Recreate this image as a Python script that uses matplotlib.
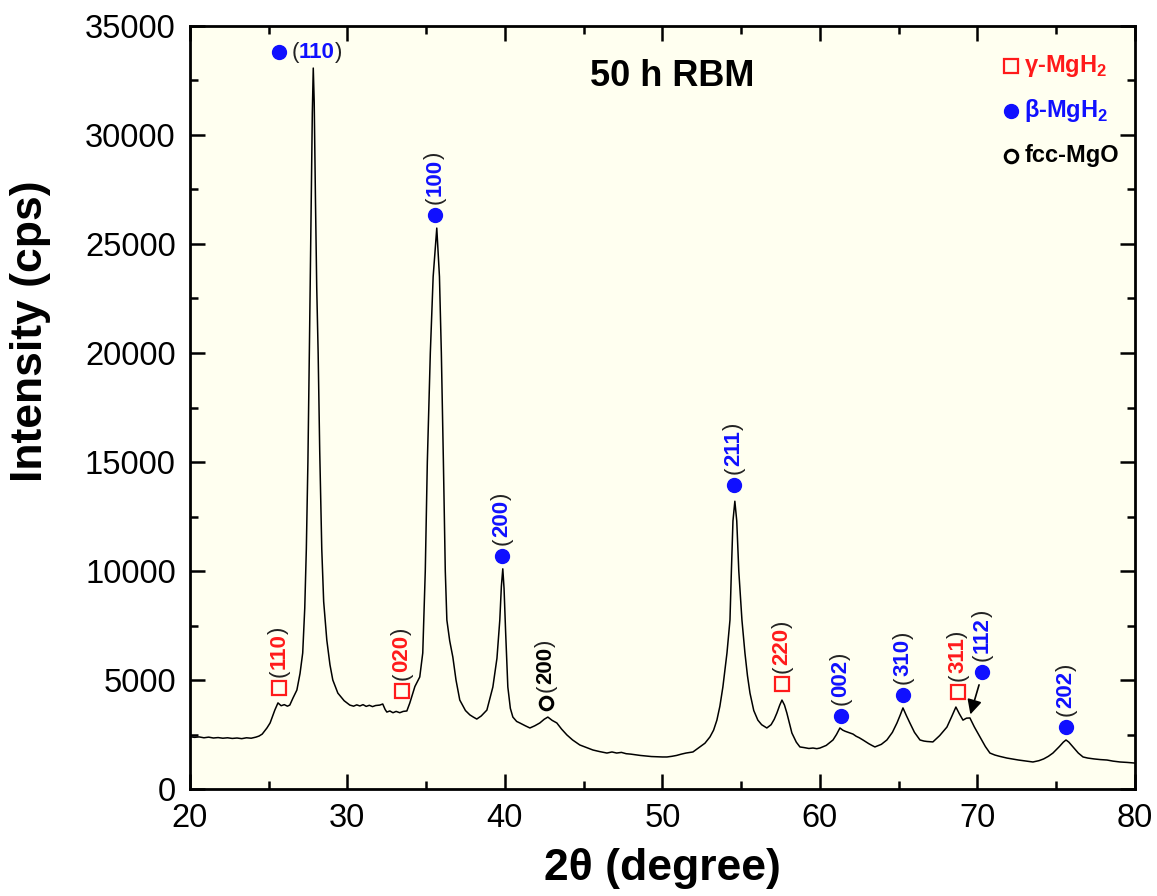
import numpy as np
import matplotlib
matplotlib.use('Agg')
from matplotlib import pyplot as plt
from matplotlib.ticker import MultipleLocator

plt.rcParams['font.family'] = ['Liberation Sans', 'DejaVu Sans']
plt.rcParams['mathtext.fontset'] = 'custom'
plt.rcParams['mathtext.rm'] = 'Liberation Sans'
plt.rcParams['mathtext.bf'] = 'Liberation Sans:bold'

# XRD pattern (2theta in degree, intensity in cps)
two_theta = [20.0, 20.3, 20.6, 20.9, 21.2, 21.5, 21.8, 22.1, 22.4, 22.7, 23.0, 23.3,
             23.6, 23.9, 24.2, 24.4, 24.6, 24.9, 25.1, 25.4, 25.6, 25.8, 26.0, 26.2,
             26.35, 26.55, 26.8, 27.0, 27.17, 27.3, 27.4, 27.5, 27.6, 27.7, 27.78,
             27.84, 27.9, 27.98, 28.06, 28.15, 28.25, 28.38, 28.5, 28.7, 28.9, 29.08,
             29.4, 29.8, 30.16, 30.4, 30.6, 30.8, 31.0, 31.2, 31.4, 31.6, 31.8, 32.06,
             32.25, 32.4, 32.51, 32.7, 32.9, 33.1, 33.33, 33.55, 33.78, 33.97, 34.29,
             34.6, 34.79, 34.95, 35.08, 35.27, 35.45, 35.68, 35.85, 35.97, 36.1,
             36.22, 36.32, 36.5, 36.7, 36.9, 37.14, 37.5, 37.78, 38.0, 38.22, 38.5,
             38.86, 39.24, 39.5, 39.68, 39.78, 39.87, 39.95, 40.05, 40.19, 40.35, 40.51,
             40.75, 40.95, 41.3, 41.59, 41.9, 42.22, 42.5, 42.73, 43.0, 43.3, 43.6,
             43.94, 44.3, 44.76, 45.2, 45.59, 46.0, 46.48, 46.8, 47.1, 47.4, 47.7,
             48.0, 48.3, 48.6, 49.0, 49.3, 49.6, 50.0, 50.29, 50.6, 50.9, 51.2, 51.5,
             51.94, 52.38, 52.7, 53.02, 53.25, 53.46, 53.65, 53.84, 54.1, 54.29, 54.38,
             54.48, 54.6, 54.72, 54.85, 55.05, 55.24, 55.4, 55.56, 55.8, 56.06, 56.3,
             56.63, 56.9, 57.1, 57.27, 57.45, 57.59, 57.75, 57.9, 58.22, 58.5, 58.73,
             59.0, 59.3, 59.56, 59.8, 60.0, 60.4, 60.83, 61.05, 61.27, 61.45, 61.6,
             61.9, 62.1, 62.3, 62.5, 62.73, 63.1, 63.3, 63.49, 63.7, 63.9, 64.25, 64.6,
             64.89, 65.1, 65.27, 65.5, 65.71, 66.0, 66.35, 66.6, 66.8, 67.17, 67.6,
             68.06, 68.35, 68.63, 68.85, 69.08, 69.3, 69.52, 69.8, 70.16, 70.5, 70.79,
             71.1, 71.4, 71.87, 72.2, 72.6, 73.0, 73.52, 73.9, 74.2, 74.5, 74.79, 75.2,
             75.45, 75.62, 75.8, 76.06, 76.4, 76.7, 77.0, 77.4, 77.8, 78.22, 78.6,
             79.05, 79.5, 80.0]
intensity = [2400, 2370, 2390, 2350, 2380, 2340, 2360, 2330, 2350, 2320, 2340, 2310,
             2350, 2330, 2380, 2430, 2520, 2800, 3030, 3620, 3950, 3820, 3870, 3800,
             3850, 4170, 4540, 5300, 6240, 8300, 11000, 15000, 20500, 26500, 31000,
             33070, 31500, 27000, 23000, 20000, 15500, 11000, 8600, 6830, 5700, 5000,
             4400, 4050, 3850, 3800, 3860, 3810, 3870, 3790, 3840, 3780, 3830, 3850,
             3900, 3650, 3530, 3580, 3500, 3560, 3500, 3560, 3580, 3950, 4700,
             5140, 6240, 10000, 15000, 20000, 23500, 25730, 23500, 20000, 15000,
             10000, 7750, 6800, 6050, 5000, 4080, 3600, 3400, 3300, 3210, 3350,
             3620, 4680, 6000, 7750, 9300, 10100, 9200, 7200, 4680, 3700, 3300,
             3100, 3030, 2900, 2800, 2900, 3030, 3200, 3300, 3150, 3030, 2750,
             2480, 2250, 2020, 1900, 1790, 1720, 1650, 1700, 1650, 1680, 1620,
             1600, 1570, 1540, 1510, 1490, 1480, 1470, 1470, 1500, 1540, 1600, 1650,
             1700, 1930, 2100, 2390, 2700, 3160, 3800, 4680, 6240, 7750, 10000,
             12300, 13200, 12300, 10000, 7750, 6240, 5200, 4400, 3600, 3160, 2950,
             2800, 2950, 3200, 3490, 3850, 4080, 3850, 3490, 2570, 2150, 1930,
             1900, 1860, 1880, 1850, 1880, 2000, 2250, 2500, 2800, 2700, 2650,
             2570, 2520, 2420, 2350, 2250, 2080, 2000, 1930, 1990, 2050, 2250, 2600,
             3030, 3400, 3720, 3350, 3030, 2600, 2250, 2200, 2180, 2160, 2450,
             2840, 3300, 3760, 3450, 3160, 3250, 3260, 2850, 2390, 1950, 1650,
             1560, 1500, 1420, 1380, 1330, 1290, 1240, 1300, 1380, 1500, 1650, 1950,
             2150, 2250, 2150, 1930, 1650, 1470, 1420, 1380, 1350, 1330, 1280,
             1240, 1220, 1190]

# peak markers: phase, hkl, marker position
peak_phase = ['beta', 'gamma', 'gamma', 'beta', 'beta', 'mgo', 'beta', 'gamma',
              'beta', 'beta', 'gamma', 'beta', 'beta']
peak_hkl = ['110', '110', '020', '100', '200', '200', '211', '220',
            '002', '310', '311', '112', '202']
peak_x = [25.65, 25.65, 33.46, 35.56, 39.81, 42.6, 54.54, 57.59,
          61.33, 65.27, 68.76, 70.29, 75.62]
peak_y = [33800, 4630, 4500, 26330, 10700, 3950, 13950, 4820,
          3350, 4310, 4450, 5370, 2840]

phase_color = {'gamma': '#ff1a1a', 'beta': '#1010ff', 'mgo': 'black'}
phase_marker = {'gamma': dict(marker='s', ms=9.5, mfc='none', mec='#ff1a1a', mew=1.6),
                'beta': dict(marker='o', ms=10, mfc='#1010ff', mec='#1010ff'),
                'mgo': dict(marker='o', ms=9, mfc='none', mec='black', mew=2.2)}
legend_names = ['γ-MgH$_\\mathbf{2}$', 'β-MgH$_\\mathbf{2}$', 'fcc-MgO']
legend_phases = ['gamma', 'beta', 'mgo']

fig = plt.figure(figsize=(11.57, 8.96), dpi=100)
ax = fig.add_axes([0.164, 0.1194, 0.817, 0.8516])
ax.set_facecolor('#fffff0')

ax.plot(two_theta, intensity, color='black', lw=1.1)


def hkl_label(x, y, hkl, color, rotate):
    fs = 16
    if rotate:
        t = ax.annotate('(', xy=(x, y), xytext=(0, 8), textcoords='offset points',
                        rotation=90, ha='center', va='bottom', fontsize=fs,
                        color='#222222')
        t = ax.annotate(hkl, xy=(0.5, 1), xycoords=t, rotation=90, ha='center',
                        va='bottom', fontsize=fs, color=color, fontweight='bold')
        ax.annotate(')', xy=(0.5, 1), xycoords=t, rotation=90, ha='center',
                    va='bottom', fontsize=fs, color='#222222')
    else:
        t = ax.annotate('(', xy=(x, y), xytext=(9, 0), textcoords='offset points',
                        ha='left', va='center', fontsize=fs, color='#222222')
        t = ax.annotate(hkl, xy=(1, 0), xycoords=t, ha='left', va='bottom',
                        fontsize=fs, color=color, fontweight='bold')
        ax.annotate(')', xy=(1, 0), xycoords=t, ha='left', va='bottom',
                    fontsize=fs, color='#222222')


for i in range(len(peak_hkl)):
    ph = peak_phase[i]
    ax.plot(peak_x[i], peak_y[i], ls='none', **phase_marker[ph])
    hkl_label(peak_x[i], peak_y[i], peak_hkl[i], phase_color[ph], rotate=(i != 0))

# arrow to the (112) shoulder
ax.annotate('', xy=(69.5, 3300), xytext=(70.15, 4900),
            arrowprops=dict(arrowstyle='-|>', color='black', lw=1.2, mutation_scale=22))

ax.text(50.6, 32700, '50 h RBM', fontsize=26, fontweight='bold', ha='center', va='center')

# legend drawn by hand
for k, ph in enumerate(legend_phases):
    ly = 0.948 - k * 0.059
    ax.plot(0.869, ly, transform=ax.transAxes, ls='none', clip_on=False, **phase_marker[ph])
    ax.text(0.883, ly, legend_names[k], transform=ax.transAxes, fontsize=17,
            fontweight='bold', color=phase_color[ph], ha='left', va='center')

ax.set_xlim(20, 80)
ax.set_ylim(0, 35000)
ax.xaxis.set_major_locator(MultipleLocator(10))
ax.xaxis.set_minor_locator(MultipleLocator(5))
ax.yaxis.set_major_locator(MultipleLocator(5000))
ax.yaxis.set_minor_locator(MultipleLocator(2500))
ax.tick_params(which='both', direction='in', top=True, right=True, width=1.8,
               labelsize=23.5, pad=10)
ax.tick_params(which='major', length=11)
ax.tick_params(which='minor', length=6)
for s in ax.spines.values():
    s.set_linewidth(2)

ax.set_xlabel('2θ (degree)', fontsize=32, fontweight='bold', labelpad=10)
ax.set_ylabel('Intensity (cps)', fontsize=32, fontweight='bold')
ax.yaxis.set_label_coords(-0.147, 0.6)

plt.savefig('out.png')
